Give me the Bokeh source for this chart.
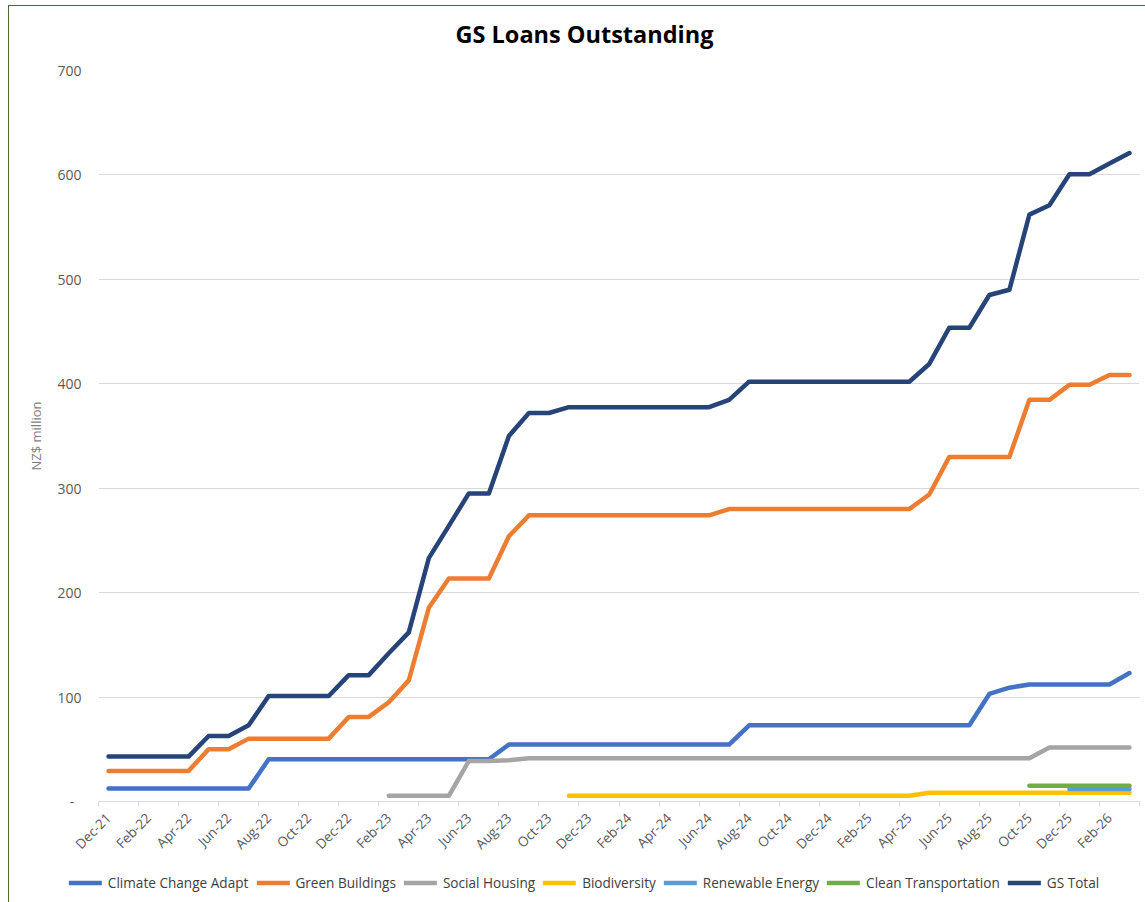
import math
from bokeh.plotting import figure
from bokeh.layouts import column
from bokeh.models import (Range1d, FixedTicker, Legend, LegendItem, ColumnDataSource, Label)
from bokeh.embed import file_html
from bokeh.resources import INLINE

# ---------------- data ----------------
title_text = "GS Loans Outstanding"
y_axis_title = "NZ$ million"

months = [
    "Dec-21", "Jan-22", "Feb-22", "Mar-22", "Apr-22", "May-22", "Jun-22", "Jul-22",
    "Aug-22", "Sep-22", "Oct-22", "Nov-22", "Dec-22", "Jan-23", "Feb-23", "Mar-23",
    "Apr-23", "May-23", "Jun-23", "Jul-23", "Aug-23", "Sep-23", "Oct-23", "Nov-23",
    "Dec-23", "Jan-24", "Feb-24", "Mar-24", "Apr-24", "May-24", "Jun-24", "Jul-24",
    "Aug-24", "Sep-24", "Oct-24", "Nov-24", "Dec-24", "Jan-25", "Feb-25", "Mar-25",
    "Apr-25", "May-25", "Jun-25", "Jul-25", "Aug-25", "Sep-25", "Oct-25", "Nov-25",
    "Dec-25", "Jan-26", "Feb-26", "Mar-26",
]

climate_change_adapt = [
    12.4, 12.4, 12.4, 12.4, 12.4, 12.4, 12.4, 12.4,
    40.4, 40.4, 40.4, 40.4, 40.4, 40.4, 40.4, 40.4, 40.4, 40.4, 40.4, 40.4,
    54.5, 54.5, 54.5, 54.5, 54.5, 54.5, 54.5, 54.5, 54.5, 54.5, 54.5, 54.5,
    73, 73, 73, 73, 73, 73, 73, 73, 73, 73, 73, 73,
    103, 109, 112, 112, 112, 112, 112, 123,
]

green_buildings = [
    29.3, 29.3, 29.3, 29.3, 29.3, 50, 50,
    60.2, 60.2, 60.2, 60.2, 60.2, 81, 81, 95, 116, 185.5,
    213.5, 213.5, 213.5, 254,
    274, 274, 274, 274, 274, 274, 274, 274, 274, 274,
    280, 280, 280, 280, 280, 280, 280, 280, 280, 280,
    294, 330, 330, 330, 330, 384.6, 384.6, 399, 399, 408.5, 408.5,
]

social_housing = [
    None, None, None, None, None, None, None, None, None, None, None, None, None, None,
    5.4, 5.4, 5.4, 5.4, 38.8, 38.8, 39.5,
    41.5, 41.5, 41.5, 41.5, 41.5, 41.5, 41.5, 41.5, 41.5, 41.5, 41.5, 41.5, 41.5,
    41.5, 41.5, 41.5, 41.5, 41.5, 41.5, 41.5, 41.5, 41.5, 41.5, 41.5, 41.5, 41.5,
    51.6, 51.6, 51.6, 51.6, 51.6,
]

biodiversity = [
    None, None, None, None, None, None, None, None, None, None, None, None,
    None, None, None, None, None, None, None, None, None, None, None,
    5.5, 5.5, 5.5, 5.5, 5.5, 5.5, 5.5, 5.5, 5.5, 5.5, 5.5, 5.5, 5.5, 5.5, 5.5, 5.5, 5.5, 5.5,
    8.3, 8.3, 8.3, 8.3, 8.3, 8.3, 8.3, 8.3, 8.3, 8.3, 8.3,
]

renewable_energy = [
    None, None, None, None, None, None, None, None, None, None, None, None,
    None, None, None, None, None, None, None, None, None, None, None, None,
    None, None, None, None, None, None, None, None, None, None, None, None,
    None, None, None, None, None, None, None, None, None, None, None, None,
    12, 12, 12, 12,
]

clean_transportation = [
    None, None, None, None, None, None, None, None, None, None, None, None,
    None, None, None, None, None, None, None, None, None, None, None, None,
    None, None, None, None, None, None, None, None, None, None, None, None,
    None, None, None, None, None, None, None, None, None, None,
    15, 15, 15, 15, 15, 15,
]

gs_total = [
    43, 43, 43, 43, 43, 62.7, 62.7, 73,
    101, 101, 101, 101, 121, 121, 142, 162, 233, 264,
    295, 295, 350, 372, 372,
    377.6, 377.6, 377.6, 377.6, 377.6, 377.6, 377.6, 377.6, 384.6,
    402, 402, 402, 402, 402, 402, 402, 402, 402,
    419, 453.7, 453.7, 485, 490, 562, 571, 600.7, 600.7, 611, 621,
]

y_ticks = [0, 100, 200, 300, 400, 500, 600, 700]

series = [
    ("Climate Change Adapt", climate_change_adapt, "#4472C4"),
    ("Green Buildings", green_buildings, "#ED7D31"),
    ("Social Housing", social_housing, "#A5A5A5"),
    ("Biodiversity", biodiversity, "#FFC000"),
    ("Renewable Energy", renewable_energy, "#5B9BD5"),
    ("Clean Transportation", clean_transportation, "#70AD47"),
    ("GS Total", gs_total, "#264478"),
]

FONT = "Open Sans"
W = 1136
LINE_W = 4.5


def bare(fig):
    fig.outline_line_color = None
    fig.background_fill_color = "white"
    fig.border_fill_color = "white"
    fig.grid.visible = False
    return fig


# ---------------- title strip ----------------
HEAD_H = 54
head = bare(figure(width=W, height=HEAD_H, x_range=Range1d(0, W), y_range=Range1d(0, HEAD_H),
                   x_axis_type=None, y_axis_type=None, min_border=0, frame_align=False,
                   output_backend="svg", toolbar_location=None))
head.add_layout(Label(x=575, y=26.5, text=title_text, text_font=FONT,
                      text_font_size="23.5px", text_font_style="bold",
                      text_color="#000000", text_align="center",
                      text_baseline="alphabetic"))

# ---------------- main chart ----------------
p = bare(figure(
    width=W, height=802,
    x_range=Range1d(-0.5, len(months) - 0.5),
    y_range=Range1d(0, 700),
    output_backend="svg", toolbar_location=None, frame_align=False,
    min_border_left=89, min_border_right=6, min_border_top=10, min_border_bottom=60,
))
p.ygrid.visible = True
p.ygrid.grid_line_color = "#D9D9D9"
p.ygrid.grid_line_width = 1

# y axis
p.yaxis.ticker = FixedTicker(ticks=y_ticks)
p.yaxis.major_label_overrides = {0: "-\u00a0\u00a0"}
p.yaxis.axis_line_color = None
p.yaxis.major_tick_line_color = None
p.yaxis.minor_tick_line_color = None
p.yaxis.major_tick_out = 0
p.yaxis.major_label_standoff = 17
p.yaxis.major_label_text_font = FONT
p.yaxis.major_label_text_font_size = "14px"
p.yaxis.major_label_text_color = "#595959"
p.yaxis.axis_label = y_axis_title
p.yaxis.axis_label_text_font = FONT
p.yaxis.axis_label_text_font_size = "13px"
p.yaxis.axis_label_text_font_style = "normal"
p.yaxis.axis_label_text_color = "#7F7F7F"
p.yaxis.axis_label_standoff = 9

# x axis: labels on every second month, tick marks between categories
label_idx = list(range(0, len(months), 2))
p.xaxis.ticker = FixedTicker(ticks=label_idx,
                             minor_ticks=[i - 0.5 for i in range(0, len(months) + 1, 2)])
p.xaxis.major_label_overrides = {i: months[i] for i in label_idx}
p.xaxis.major_label_orientation = math.pi / 4
p.xaxis.major_tick_line_color = None
p.xaxis.major_tick_out = 0
p.xaxis.major_tick_in = 0
p.xaxis.minor_tick_line_color = "#D9D9D9"
p.xaxis.minor_tick_in = 0
p.xaxis.minor_tick_out = 5
p.xaxis.axis_line_color = "#D9D9D9"
p.xaxis.major_label_standoff = 9
p.xaxis.major_label_text_font = FONT
p.xaxis.major_label_text_font_size = "13.5px"
p.xaxis.major_label_text_color = "#595959"

for name, vals, color in series:
    xs = [i for i, v in enumerate(vals) if v is not None]
    ys = [v for v in vals if v is not None]
    src = ColumnDataSource(dict(x=xs, y=ys))
    p.line("x", "y", source=src, line_color=color, line_width=LINE_W,
           line_join="round", line_cap="round")

# ---------------- legend strip ----------------
leg = bare(figure(width=W, height=40, x_range=Range1d(0, 1), y_range=Range1d(0, 1),
                  x_axis_type=None, y_axis_type=None, min_border=0, frame_align=False,
                  output_backend="svg", toolbar_location=None))
leg.min_border_left = 14
items = []
for name, vals, color in series:
    # a single NaN point: nothing drawn in the strip, only the legend swatch
    r = leg.line(x=[float("nan")], y=[float("nan")], line_color=color,
                 line_width=LINE_W, line_cap="round")
    items.append(LegendItem(label=name, renderers=[r]))
legend = Legend(
    items=items, orientation="horizontal", location="center",
    glyph_width=33, glyph_height=18, label_standoff=6, spacing=8,
    label_text_font=FONT, label_text_font_size="13.6px", label_text_color="#404040",
    border_line_color=None, background_fill_alpha=0, padding=0, margin=0,
)
leg.add_layout(legend, "center")

layout = column(head, p, leg, spacing=0, styles={
    "margin-left": "8px", "margin-top": "5px",
    "border-left": "1px solid #4E6B30", "border-top": "1px solid #4E6B30",
})

open("out.html", "w").write(file_html(layout, INLINE))
